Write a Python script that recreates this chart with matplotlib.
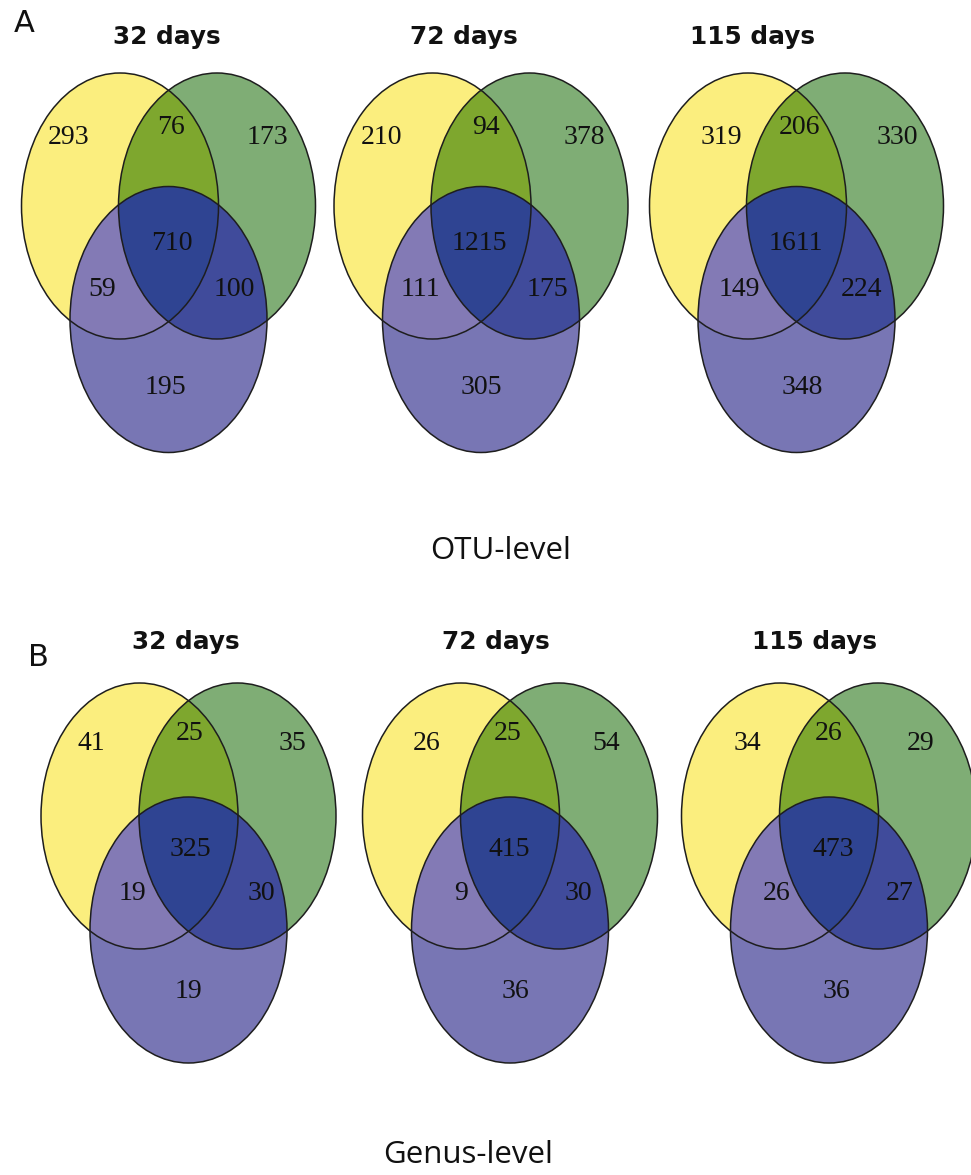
import numpy as np
import matplotlib.pyplot as plt
from matplotlib.patches import Ellipse, Polygon

# region order: yellow only, yellow&green, green only, all three,
#               yellow&blue, green&blue, blue only
days = ['32 days', '72 days', '115 days']
otu_counts = [[293, 76, 173, 710, 59, 100, 195],
              [210, 94, 378, 1215, 111, 175, 305],
              [319, 206, 330, 1611, 149, 224, 348]]
genus_counts = [[41, 25, 35, 325, 19, 30, 19],
                [26, 25, 54, 415, 9, 30, 36],
                [34, 26, 29, 473, 26, 27, 36]]
levels = ['OTU-level', 'Genus-level']
panels = ['A', 'B']

# colours of the seven regions
c_y = '#fbee7e'
c_g = '#7fad75'
c_b = '#7876b4'
c_yg = '#7ea72e'
c_yb = '#837ab5'
c_gb = '#404b9b'
c_ygb = '#2f4492'
edge = '#1e1e1e'

# layout (pixels, y downwards)
rx, ry = 98.5, 133
rows = [
    dict(cx=[120, 432.5, 748], cy=206, by=319.5, gdx=97,
         titles=[(167, 37), (464, 37), (752, 37)], tag=(24, 23), cap=(501, 551),
         offs=[[(-51, -68), (51, -78), (147, -68), (52, 37), (-18, 83), (114, 83), (45, 181)],
               [(-51.5, -68), (53, -78), (152, -68), (47, 37), (-12, 83), (115, 83), (49, 181)],
               [(-27, -68), (51, -78), (149, -68), (48, 37), (-9, 83), (113, 83), (54, 181)]]),
    dict(cx=[139.5, 461, 780], cy=816, by=930, gdx=98,
         titles=[(185.5, 642), (496, 642), (815, 642)], tag=(38, 657), cap=(468, 1155),
         offs=[[(-48.5, -72), (50.5, -83), (153, -72), (51, 33), (-7.5, 78), (122, 78), (48.5, 176)],
               [(-34, -72), (47, -83), (145, -72), (48, 33), (0, 78), (117, 78), (54, 176)],
               [(-33, -72), (49, -83), (141, -72), (53, 33), (-3, 78), (120, 78), (56, 176)]]),
]

fig = plt.figure(figsize=(9.71, 11.75), dpi=100)
ax = fig.add_axes([0, 0, 1, 1])
ax.set_xlim(0, 971)
ax.set_ylim(1175, 0)
ax.axis('off')


def lens(xy, xg, cy):
    d = xg - xy
    a = np.arccos((d / 2) / rx)
    t1 = np.linspace(-a, a, 200)
    t2 = np.linspace(np.pi - a, np.pi + a, 200)
    pts1 = np.column_stack([xy + rx * np.cos(t1), cy + ry * np.sin(t1)])
    pts2 = np.column_stack([xg + rx * np.cos(t2), cy + ry * np.sin(t2)])
    return np.vstack([pts1, pts2])


def venn(xy, xg, xb, cy, by):
    ey = Ellipse((xy, cy), 2 * rx, 2 * ry, fc=c_y, ec='none')
    eg = Ellipse((xg, cy), 2 * rx, 2 * ry, fc=c_g, ec='none')
    ax.add_patch(ey)
    ax.add_patch(eg)
    yg = Ellipse((xg, cy), 2 * rx, 2 * ry, fc=c_yg, ec='none')
    ax.add_patch(yg)
    yg.set_clip_path(ey)
    eb = Ellipse((xb, by), 2 * rx, 2 * ry, fc=c_b, ec='none')
    ax.add_patch(eb)
    yb = Ellipse((xb, by), 2 * rx, 2 * ry, fc=c_yb, ec='none')
    ax.add_patch(yb)
    yb.set_clip_path(ey)
    gb = Ellipse((xb, by), 2 * rx, 2 * ry, fc=c_gb, ec='none')
    ax.add_patch(gb)
    gb.set_clip_path(eg)
    tri = Polygon(lens(xy, xg, cy), closed=True, fc=c_ygb, ec='none')
    ax.add_patch(tri)
    tri.set_clip_path(eb)
    for (x, y) in [(xy, cy), (xg, cy), (xb, by)]:
        ax.add_patch(Ellipse((x, y), 2 * rx, 2 * ry, fill=False, ec=edge, lw=1.1))


for r, (row, counts) in enumerate(zip(rows, [otu_counts, genus_counts])):
    for i in range(3):
        xy = row['cx'][i]
        xg = xy + row['gdx']
        xb = (xy + xg) / 2
        venn(xy, xg, xb, row['cy'], row['by'])
        for n, (dx, dy) in zip(counts[i], row['offs'][i]):
            ax.text(xy + dx, row['cy'] + dy, str(n), ha='center', va='center',
                    fontsize=20, family='Liberation Serif', color='#111111')
        tx, ty = row['titles'][i]
        ax.text(tx, ty, days[i], ha='center', va='center', fontsize=17.8,
                fontweight='bold', family='DejaVu Sans', color='#111111')
    ax.text(row['tag'][0], row['tag'][1], panels[r], ha='center', va='center',
            fontsize=22, family='DejaVu Sans', color='#111111')
    ax.text(row['cap'][0], row['cap'][1], levels[r], ha='center', va='center',
            fontsize=22.5, family='Open Sans', color='#111111')

fig.savefig('out.png', dpi=100, facecolor='white')
